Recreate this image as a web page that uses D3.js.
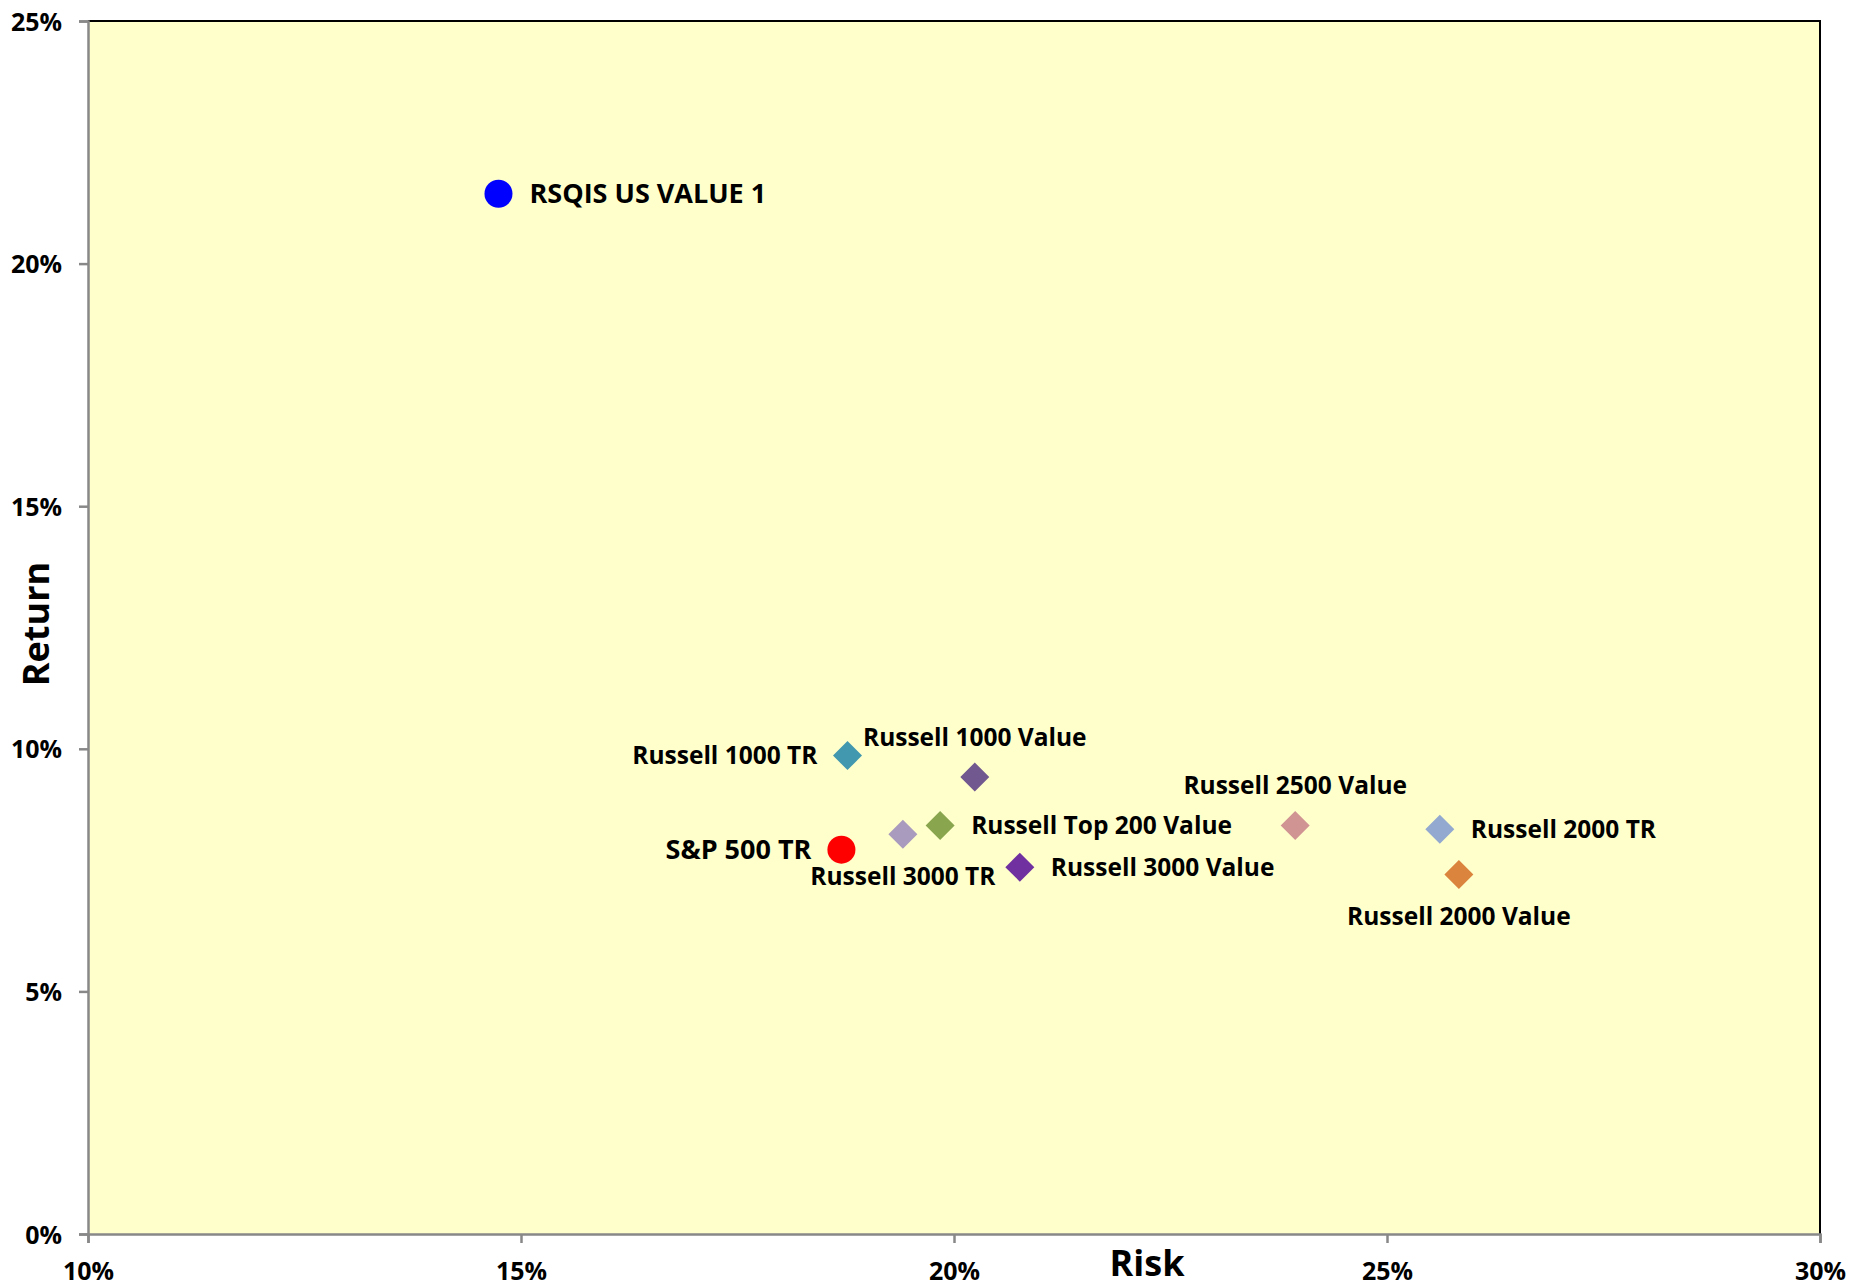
<!DOCTYPE html>
<html>
<head>
<meta charset="utf-8">
<script src="https://cdn.jsdelivr.net/npm/d3@7"></script>
<style>
  html, body { margin: 0; padding: 0; background: #ffffff; }
  svg { display: block; }
  text { font-family: "Open Sans", "DejaVu Sans", sans-serif; font-weight: 700; fill: #000; }
</style>
</head>
<body>
<svg id="chart" width="1868" height="1287"></svg>
<script>
// ---- data ----
const names = ["RSQIS US VALUE 1", "S&P 500 TR", "Russell 1000 TR", "Russell 1000 Value",
  "Russell 3000 TR", "Russell Top 200 Value", "Russell 3000 Value", "Russell 2500 Value",
  "Russell 2000 TR", "Russell 2000 Value"];
const risk   = [0.1474, 0.1870, 0.1877, 0.2024, 0.1941, 0.1984, 0.2076, 0.2394, 0.2561, 0.2583];
const ret    = [0.2144, 0.0792, 0.0986, 0.0942, 0.0824, 0.0842, 0.0756, 0.0842, 0.0834, 0.0741];
const xTicks = [0.10, 0.15, 0.20, 0.25, 0.30];
const yTicks = [0, 0.05, 0.10, 0.15, 0.20, 0.25];
const xTitle = "Risk";
const yTitle = "Return";

// ---- styles / layout ----
const shapes = ["circle", "circle", "diamond", "diamond", "diamond", "diamond", "diamond", "diamond", "diamond", "diamond"];
const colors = ["#0000FF", "#FF0000", "#4198AF", "#71588F", "#A99BBD", "#89A54E", "#7030A0", "#D09493", "#93A9CF", "#DB843D"];
const placement = ["right", "left", "left", "above", "below", "right", "right", "above", "right", "below"];
const labelSize = [27, 27, 24.5, 24.5, 24.5, 24.5, 24.5, 24.5, 24.5, 24.5];

const L = 88, R = 1820, T = 21, B = 1234;
const svg = d3.select("#chart");
const x = d3.scaleLinear().domain([0.10, 0.30]).range([L, R]);
const y = d3.scaleLinear().domain([0, 0.25]).range([B, T]);
const pct = d3.format(".0%");

// plot background
svg.append("rect").attr("x", L).attr("y", T).attr("width", R - L).attr("height", B - T)
  .attr("fill", "#FFFFCC");
// top & right border
svg.append("path").attr("d", `M${L},${T}H${R}V${B}`).attr("fill", "none")
  .attr("stroke", "#000").attr("stroke-width", 2);

// axes
const xAxis = svg.append("g").attr("transform", `translate(0,${B})`)
  .call(d3.axisBottom(x).tickValues(xTicks).tickFormat(pct).tickSize(9).tickPadding(18));
const yAxis = svg.append("g").attr("transform", `translate(${L},0)`)
  .call(d3.axisLeft(y).tickValues(yTicks).tickFormat(pct).tickSize(9).tickPadding(17));
[xAxis, yAxis].forEach(g => {
  g.select(".domain").attr("stroke", "#888").attr("stroke-width", 2.5);
  g.selectAll(".tick line").attr("stroke", "#888").attr("stroke-width", 2.5);
  g.selectAll(".tick text").attr("font-family", '"Open Sans", sans-serif')
    .attr("font-weight", 700).attr("font-size", 25).attr("fill", "#000");
});
xAxis.selectAll(".tick text").attr("dy", "0.75em");
yAxis.selectAll(".tick text").attr("dy", "0.36em");

// axis titles
svg.append("text").attr("x", 1147).attr("y", 1276).attr("text-anchor", "middle")
  .attr("font-size", 36).text(xTitle);
svg.append("text").attr("transform", "translate(49,624) rotate(-90)")
  .attr("text-anchor", "middle").attr("font-size", 36).text(yTitle);

// points
const idx = d3.range(names.length);
const diamond = (cx, cy, r) => `M${cx},${cy - r}L${cx + r},${cy}L${cx},${cy + r}L${cx - r},${cy}Z`;
const g = svg.append("g");
idx.forEach(i => {
  const cx = x(risk[i]), cy = y(ret[i]);
  if (shapes[i] === "circle") {
    g.append("circle").attr("cx", cx).attr("cy", cy).attr("r", 14).attr("fill", colors[i]);
  } else {
    g.append("path").attr("d", diamond(cx, cy, 14.5)).attr("fill", colors[i]);
  }
});

// labels
idx.forEach(i => {
  const cx = x(risk[i]), cy = y(ret[i]);
  const t = svg.append("text").attr("font-size", labelSize[i]).attr("dy", "0.36em").text(names[i]);
  const p = placement[i];
  if (p === "right") t.attr("x", cx + 31).attr("y", cy).attr("text-anchor", "start");
  else if (p === "left") t.attr("x", cx - 30).attr("y", cy).attr("text-anchor", "end");
  else if (p === "above") t.attr("x", cx).attr("y", cy - 40).attr("text-anchor", "middle");
  else t.attr("x", cx).attr("y", cy + 42).attr("text-anchor", "middle");
});
</script>
</body>
</html>
